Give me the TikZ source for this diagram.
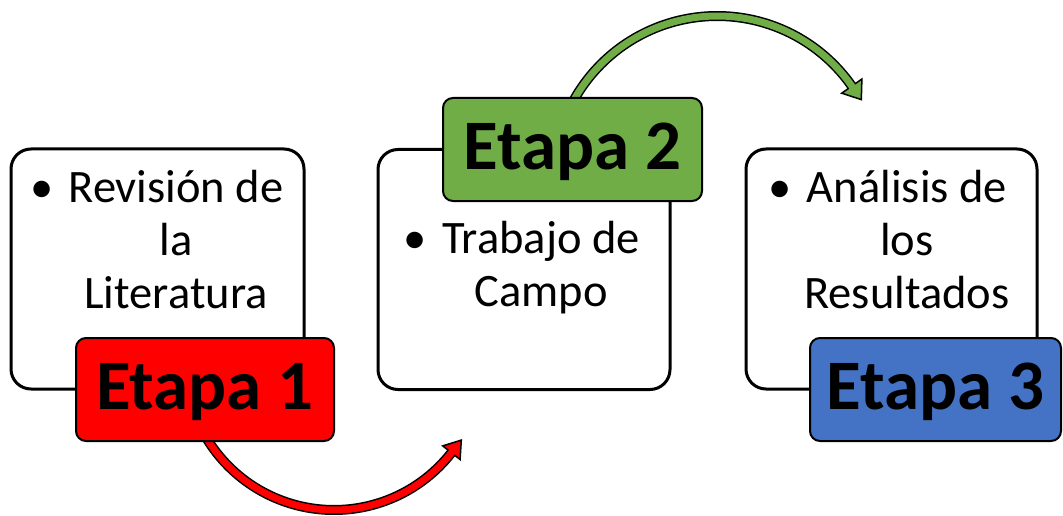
\documentclass[tikz,border=0pt]{standalone}
\usepackage{fontspec}
\setmainfont{Carlito}
\definecolor{stagered}{HTML}{FF0000}
\definecolor{stagegreen}{HTML}{70AD47}
\definecolor{stageblue}{HTML}{4472C4}
\begin{document}
\begin{tikzpicture}[x=1pt,y=-1pt,
  whitebox/.style={draw=black, line width=3pt, fill=white, rounded corners=20pt, inner sep=0pt, minimum height=240pt},
  etapabox/.style={draw=black, line width=2pt, rounded corners=10pt, inner sep=0pt, minimum height=103pt,
    font=\bfseries\fontsize{71}{84}\selectfont, text height=44pt, text depth=4pt},
  bodytext/.style={anchor=base, inner sep=0pt, font=\fontsize{46.5}{53}\selectfont},
  shaftout/.style={draw=black, line width=10pt},
  headstyle/.style={draw=black, line width=1.5pt, line join=miter}
]
\useasboundingbox (0,0) rectangle (1063,516);
% white boxes
\node[whitebox, minimum width=293pt] (b1) at (157.5,269) {};
\node[whitebox, minimum width=292pt] (b2) at (524,269.5) {};
\node[whitebox, minimum width=291pt] (b3) at (891.5,269) {};
% red arrow
\coordinate (rc) at (334,361);
\coordinate (rtip) at (461.3,440.1);
\coordinate (ra) at (460.1,459.5);
\coordinate (rb) at (442.7,445.9);
\begin{scope}[shift={(rc)}]
  \draw[shaftout] plot[domain=150:38, samples=80, smooth] (\x:149);
\end{scope}
\filldraw[headstyle, fill=stagered] (ra) -- (rtip) -- (rb) -- cycle;
\begin{scope}[shift={(rc)}]
  \draw[draw=stagered, line width=7pt] plot[domain=150:35, samples=80, smooth] (\x:149);
\end{scope}
% green arrow
\coordinate (gc) at (717.2,180.3);
\coordinate (gtip) at (861.3,99.6);
\coordinate (ga) at (861.9,79.0);
\coordinate (gb) at (841.7,93.2);
\begin{scope}[shift={(gc)}]
  \draw[shaftout] plot[domain=205:325, samples=80, smooth] (\x:164.3);
\end{scope}
\filldraw[headstyle, fill=stagegreen] (ga) -- (gtip) -- (gb) -- cycle;
\begin{scope}[shift={(gc)}]
  \draw[draw=stagegreen, line width=7pt] plot[domain=205:328, samples=80, smooth] (\x:164.3);
\end{scope}
% stage labels
\node[etapabox, fill=stagered, minimum width=258pt] (e1) at (205,389.5) {Etapa 1};
\node[etapabox, fill=stagegreen, minimum width=259pt] (e2) at (572.5,149.5) {Etapa 2};
\node[etapabox, fill=stageblue, minimum width=251pt] (e3) at (935.5,389.5) {Etapa 3};
% body texts
\node[bodytext] (t1) at (176,202) {\begin{tabular}[t]{@{}c@{}}\llap{\textbullet\hspace{15pt}}Revisión de\\la\\Literatura\end{tabular}};
\node[bodytext] (t2) at (541,253) {\begin{tabular}[t]{@{}c@{}}\llap{\textbullet\hspace{15pt}}Trabajo de\\Campo\end{tabular}};
\node[bodytext] (t3) at (907,202) {\begin{tabular}[t]{@{}c@{}}\llap{\textbullet\hspace{15pt}}Análisis de\\los\\Resultados\end{tabular}};
\end{tikzpicture}
\end{document}
